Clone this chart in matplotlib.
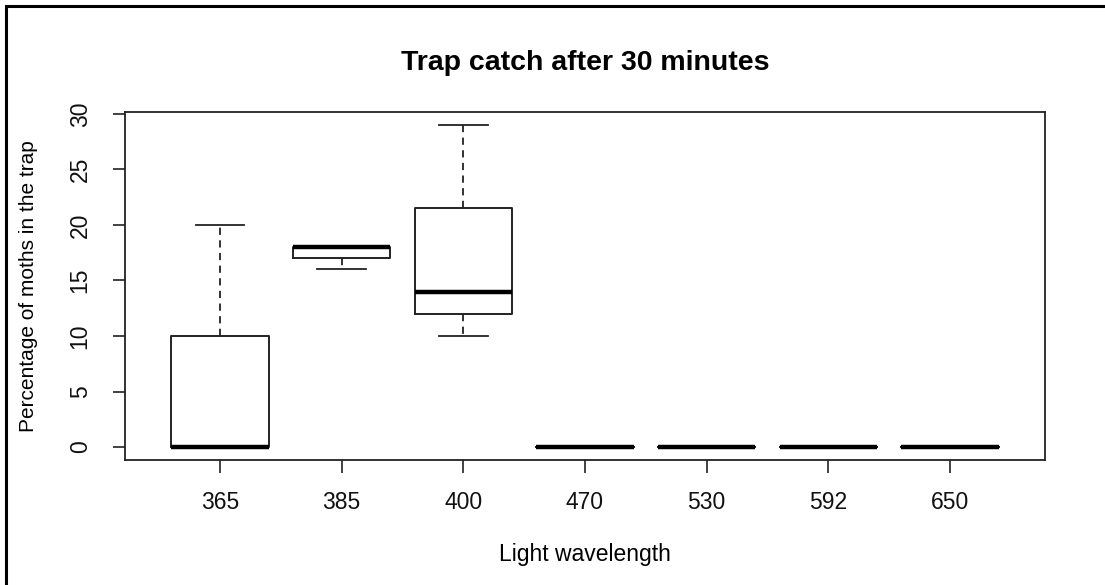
import matplotlib
matplotlib.use("Agg")
import matplotlib.pyplot as plt
from matplotlib.patches import Rectangle

plt.rcParams['font.family'] = ['Liberation Sans', 'DejaVu Sans']

# data (percent of moths in trap)
wavelengths = ['365', '385', '400', '470', '530', '592', '650']
whisk_lo = [0, 16, 10, 0, 0, 0, 0]
q1 = [0, 17, 12, 0, 0, 0, 0]
medians = [0, 18, 14, 0, 0, 0, 0]
q3 = [10, 18, 21.5, 0, 0, 0, 0]
whisk_hi = [20, 18, 29, 0, 0, 0, 0]

stats = []
for i, lab in enumerate(wavelengths):
    stats.append({'label': lab, 'whislo': whisk_lo[i], 'q1': q1[i], 'med': medians[i],
                  'q3': q3[i], 'whishi': whisk_hi[i], 'fliers': []})

fig = plt.figure(figsize=(11.05, 5.85), dpi=100)
ax = fig.add_axes([125 / 1105, 1 - 460 / 585, 920 / 1105, 348 / 585])

line_col = '#222222'
ax.bxp(stats, positions=range(1, 8), widths=0.8, showfliers=False,
       boxprops=dict(color=line_col, linewidth=1.4),
       whiskerprops=dict(color=line_col, linewidth=1.3, linestyle=(0, (4, 3))),
       capprops=dict(color=line_col, linewidth=1.3),
       medianprops=dict(color='black', linewidth=3.2, solid_capstyle='butt'),
       capwidths=0.4)

ax.set_xlim(0.22, 7.78)
ax.set_ylim(-1.16, 30.16)
ax.set_yticks([0, 5, 10, 15, 20, 25, 30])
ax.set_xticks(range(1, 8))
ax.set_xticklabels(wavelengths)
for lab in ax.get_yticklabels():
    lab.set_rotation(90)
    lab.set_va('center')

ax.tick_params(axis='both', direction='out', length=9, width=1.2, color=line_col,
               labelsize=16.5, labelcolor='#111111')
ax.tick_params(axis='x', pad=13)
ax.tick_params(axis='y', pad=15)
for sp in ax.spines.values():
    sp.set_color(line_col)
    sp.set_linewidth(1.3)

ax.set_title('Trap catch after 30 minutes', fontsize=20.5, fontweight='bold', pad=30)
ax.set_xlabel('Light wavelength', fontsize=16.5, labelpad=21)
ax.set_ylabel('Percentage of moths in the trap', fontsize=15, labelpad=22)

# outer frame of the screenshot (only left and top edges visible)
fig.patches.append(Rectangle((6 / 1105, -0.1), 1.2, 0.1 + 1 - 6 / 585,
                             transform=fig.transFigure, fill=False,
                             edgecolor='black', linewidth=2.2))

fig.savefig('out.png', dpi=100)
